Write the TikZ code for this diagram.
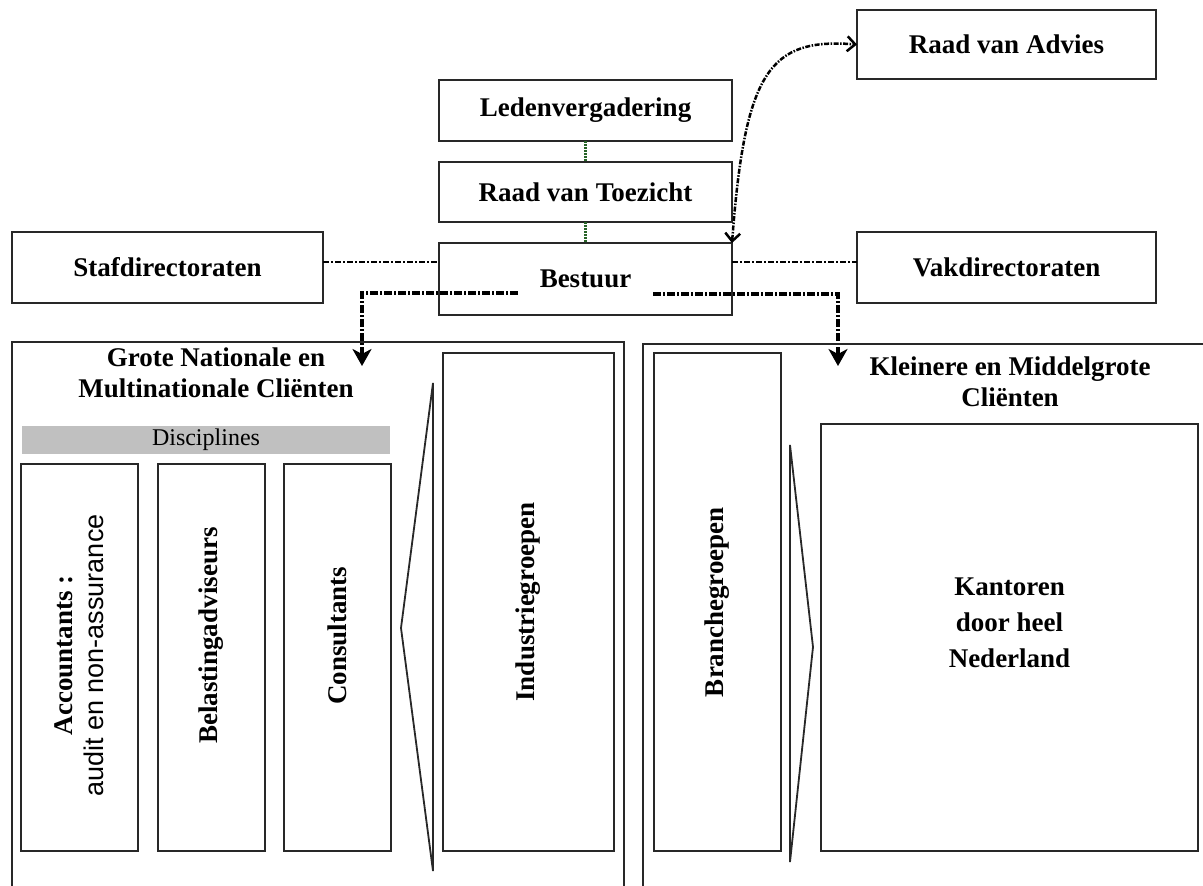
\documentclass[tikz,border=0pt]{standalone}
\usepackage{fontspec}
\setmainfont{Liberation Serif}
\setsansfont{Liberation Sans}
\usetikzlibrary{arrows.meta,calc}
\definecolor{lijn}{RGB}{40,40,40}
\definecolor{grijsbalk}{RGB}{192,192,192}
\definecolor{groenlijn}{RGB}{40,100,40}

\begin{document}
\begin{tikzpicture}[x=1pt,y=-1pt,
    font=\fontsize{27}{31}\selectfont\bfseries,
    box/.style={draw=lijn,line width=1.8pt,inner sep=0pt,outer sep=0pt,align=center},
    vtxt/.style={rotate=90,align=center},
    staf/.style={line width=1.8pt,dash pattern=on 6pt off 2pt on 2pt off 2pt},
    hoofd/.style={line width=4pt,dash pattern=on 8pt off 2pt on 2pt off 2pt,
      -{Stealth[length=17pt,width=19pt,inset=5pt]}},
    toezicht/.style={groenlijn,line width=3.5pt,dash pattern=on 2pt off 1pt},
    advies/.style={line width=2.5pt,dash pattern=on 5pt off 1.5pt on 1.5pt off 1.5pt,
      {Straight Barb[length=8pt,width=15pt,line width=2.5pt]}-{Straight Barb[length=8pt,width=15pt,line width=2.5pt]}}]
  \useasboundingbox (0,0) rectangle (1203,886);

  % bovenste laag
  \node[box,minimum width=293pt,minimum height=61pt] (leden) at (585.5,110.5) {Ledenvergadering};
  \node[box,minimum width=293pt,minimum height=60pt] (toezicht) at (585.5,192) {Raad van Toezicht};
  \node[box,minimum width=293pt,minimum height=72pt] (bestuur) at (585.5,279) {Bestuur};
  \node[box,minimum width=311pt,minimum height=71pt] (staf) at (167.5,267.5) {Stafdirectoraten};
  \node[box,minimum width=299pt,minimum height=71pt] (vak) at (1006.5,267.5) {Vakdirectoraten};
  \node[box,minimum width=299pt,minimum height=69pt] (advies) at (1006.5,44.5) {Raad van Advies};

  \draw[toezicht] (leden.south) -- (toezicht.north);
  \draw[toezicht] (toezicht.south) -- (bestuur.north);
  \coordinate (sr) at ([yshift=5.5pt]staf.east);
  \coordinate (vl) at ([yshift=5.5pt]vak.west);
  \draw[staf] (sr) -- (sr -| bestuur.west);
  \draw[staf] (vl -| bestuur.east) -- (vl);
  \draw[advies] (bestuur.north east) .. controls (745,70) and (770,38) .. (advies.west);

  % pijlen naar de twee delen
  \coordinate (bl) at (518,293);
  \coordinate (br) at (653,294);
  \coordinate (gl) at (362,366);
  \coordinate (gr) at (838,366);
  \draw[hoofd] (bl) -| (gl);
  \draw[hoofd] (br) -| (gr);

  % linker deel
  \draw[lijn,line width=1.8pt] (12,886) -- (12,342) -- (624,342) -- (624,886);
  \node[align=center] (grote) at (216,373) {Grote Nationale en\\Multinationale Cliënten};
  \node[fill=grijsbalk,inner sep=0pt,minimum width=368pt,minimum height=28pt,
    font=\fontsize{24}{28}\selectfont\mdseries] (disc) at (206,440) {Disciplines};
  \node[box,minimum width=117pt,minimum height=387pt] (acc) at (79.5,657.5) {};
  \node[box,minimum width=107pt,minimum height=387pt] (bel) at (211.5,657.5) {};
  \node[box,minimum width=107pt,minimum height=387pt] (cons) at (337.5,657.5) {};
  \node[vtxt] at ([yshift=2pt]acc.center) {Accountants :\\{\sffamily\mdseries audit en non-assurance}};
  \node[vtxt] at ([yshift=22pt]bel.center) {Belastingadviseurs};
  \node[vtxt] at ([yshift=22pt]cons.center) {Consultants};
  \draw[lijn,line width=1.8pt] (433,383) -- (401,628) -- (433,871) -- cycle;
  \node[box,minimum width=171pt,minimum height=498pt] (ind) at (528.5,602) {};
  \node[vtxt] at (ind.center) {Industriegroepen};

  % rechter deel
  \draw[lijn,line width=1.8pt] (643,886) -- (643,344) -- (1203,344);
  \node[align=center] (klein) at (1010,382) {Kleinere en Middelgrote\\Cliënten};
  \node[box,minimum width=127pt,minimum height=498pt] (branche) at (717.5,602) {};
  \node[vtxt] at (branche.center) {Branchegroepen};
  \draw[lijn,line width=1.8pt] (790,445) -- (813,647) -- (790,862) -- cycle;
  \node[box,minimum width=377pt,minimum height=427pt] (kant) at (1009.5,637.5) {};
  \node[align=center,font=\fontsize{27}{36}\selectfont\bfseries] at ([yshift=15pt]kant.center) {Kantoren\\door heel\\Nederland};
\end{tikzpicture}
\end{document}
